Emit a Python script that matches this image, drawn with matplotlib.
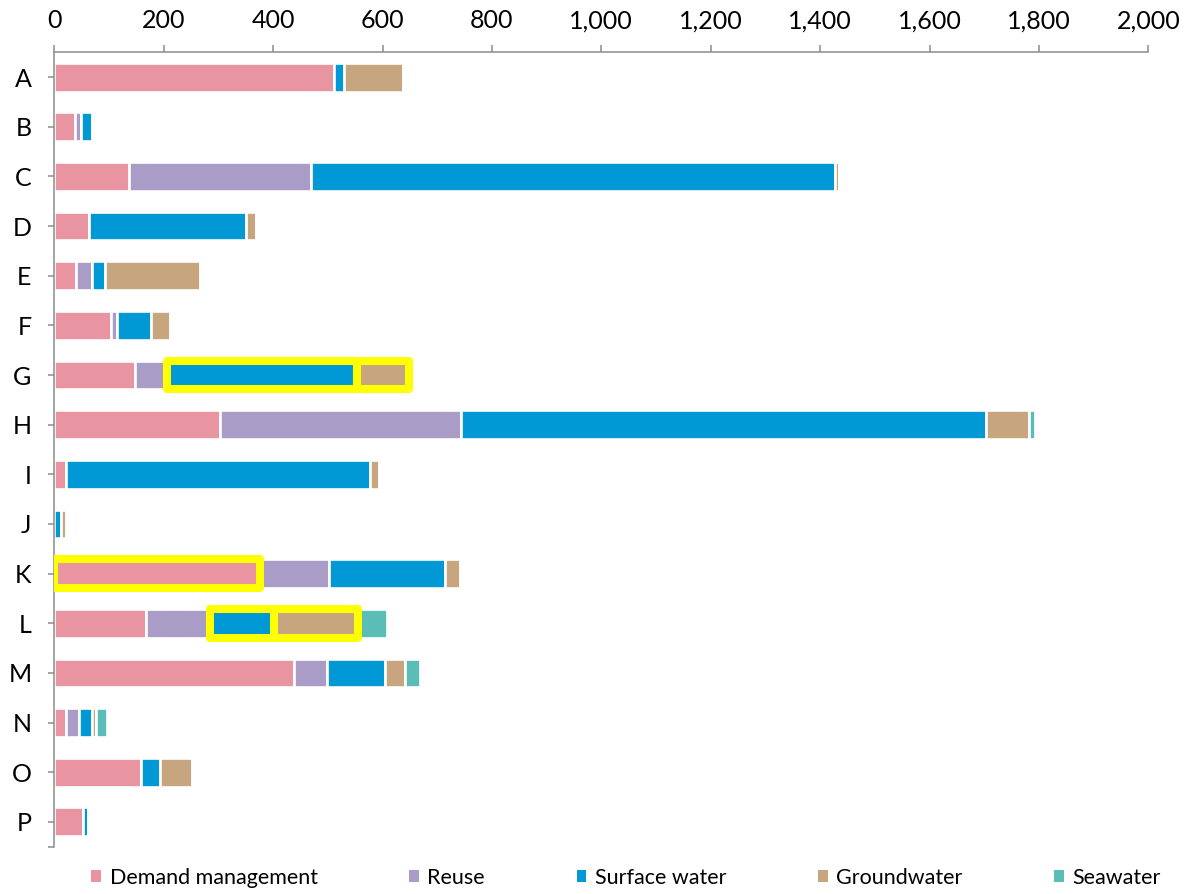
import numpy as np
import matplotlib
matplotlib.use('Agg')
import matplotlib.pyplot as plt
import matplotlib.ticker as tkr
from matplotlib.patches import Patch

plt.rcParams['font.family'] = ['Lato', 'DejaVu Sans']

# values
categories = ['A', 'B', 'C', 'D', 'E', 'F', 'G', 'H',
              'I', 'J', 'K', 'L', 'M', 'N', 'O', 'P']
demand = [511, 37, 137, 64, 39, 103, 148, 303, 21, 0, 376, 167, 439, 22, 159, 52]
reuse = [0, 12, 332, 0, 30, 12, 58, 440, 0, 0, 127, 117, 59, 24, 0, 0]
surface = [18, 20, 958, 286, 24, 62, 347, 960, 557, 12, 211, 118, 107, 23, 35, 10]
ground = [108, 0, 8, 19, 174, 34, 95, 79, 15, 9, 28, 154, 36, 8, 57, 0]
seawater = [2, 0, 0, 0, 0, 0, 0, 11, 0, 0, 0, 53, 27, 20, 0, 0]

series_names = ['Demand management', 'Reuse', 'Surface water',
                'Groundwater', 'Seawater']
series = [demand, reuse, surface, ground, seawater]
colors = ['#E995A1', '#A99CC7', '#0099D6', '#C6A57F', '#5BBDB7']

# segments outlined in yellow
highlights = [('G', 'Surface water'), ('G', 'Groundwater'),
              ('K', 'Demand management'),
              ('L', 'Surface water'), ('L', 'Groundwater')]

fig = plt.figure(figsize=(11.86, 8.94), dpi=100)
W, H = 1186, 894
ax = fig.add_axes([54.3 / W, 1 - 846.7 / H, (1148.3 - 54.3) / W, (846.7 - 52.3) / H])

y = np.arange(len(categories))
bar_h = 0.58
lefts = np.zeros(len(categories))
starts = {}
for name, vals, col in zip(series_names, series, colors):
    vals = np.array(vals, dtype=float)
    starts[name] = lefts.copy()
    ax.barh(y, vals, left=lefts, height=bar_h, color=col,
            edgecolor='white', linewidth=1.9, zorder=2)
    lefts = lefts + vals

for cat, name in highlights:
    i = categories.index(cat)
    val = series[series_names.index(name)][i]
    ax.barh(i, val, left=starts[name][i], height=bar_h, facecolor='none',
            edgecolor='#FFFF00', linewidth=5.8, joinstyle='round', zorder=3)

ax.set_xlim(0, 2000)
ax.set_ylim(len(categories) - 0.5, -0.5)
ax.set_yticks(y)
ax.set_yticklabels(categories)
ax.set_yticks([len(categories) - 0.5], minor=True)
ax.xaxis.tick_top()
ax.set_xticks(np.arange(0, 2001, 200))
ax.xaxis.set_major_formatter(tkr.FuncFormatter(lambda x, p: format(int(x), ',')))

for s in ['bottom', 'right']:
    ax.spines[s].set_visible(False)
for s in ['top', 'left']:
    ax.spines[s].set_color('#8C8C8C')
    ax.spines[s].set_linewidth(1.1)

ax.tick_params(axis='x', which='major', length=4.8, width=1.1, color='#8C8C8C',
               labelsize=18, pad=9.5, labelcolor='black')
ax.tick_params(axis='y', which='both', length=4.5, width=1.1, color='#8C8C8C',
               labelsize=18, pad=12, labelcolor='black')

handles = [Patch(facecolor=c, edgecolor='none', label=n)
           for n, c in zip(series_names, colors)]
fig.legend(handles=handles, loc='center', ncol=5, frameon=False,
           bbox_to_anchor=(626 / W, 1 - 877.5 / H), fontsize=15.5,
           handlelength=0.45, handleheight=0.45, handletextpad=0.4,
           columnspacing=4.25, borderpad=0, borderaxespad=0)

fig.savefig('out.png', dpi=100)
